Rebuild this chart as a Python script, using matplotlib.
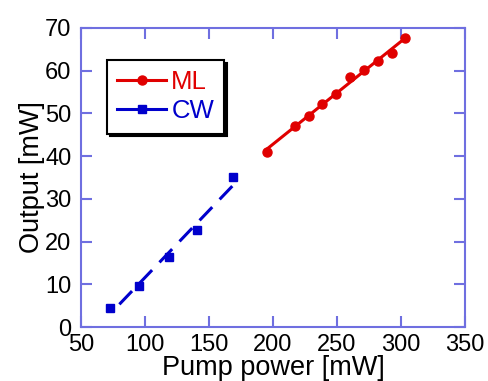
import matplotlib
matplotlib.use("Agg")
import matplotlib.pyplot as plt
import numpy as np

# Mode-locked output vs pump power
ml_pump = [195, 217, 228, 238.5, 249, 260, 271, 282, 293, 303.5]
ml_out = [41.0, 47.1, 49.3, 52.1, 54.5, 58.5, 60.2, 62.3, 64.2, 67.6]

# CW output vs pump power
cw_pump = [73, 95, 119, 141, 169]
cw_out = [4.4, 9.7, 16.5, 22.7, 35.0]

red = "#e00000"
blue = "#0000cc"
frame = "#6f6fe0"

plt.rcParams["font.family"] = ["Liberation Sans", "DejaVu Sans"]

fig = plt.figure(figsize=(4.89, 3.81), dpi=100)
ax = fig.add_axes([0.1656, 0.1417, 0.785, 0.785])

# linear fits drawn over the measured points
p_ml = np.polyfit(ml_pump, ml_out, 1)
xf_ml = np.array([ml_pump[0], ml_pump[-1]])
ax.plot(xf_ml, np.polyval(p_ml, xf_ml), color=red, lw=2.2)
ax.plot(ml_pump, ml_out, "o", color=red, ms=6.5)

p_cw = np.polyfit(cw_pump, cw_out, 1)
xf_cw = np.array([80, cw_pump[-1]])
ax.plot(xf_cw, np.polyval(p_cw, xf_cw), color=blue, lw=2.2, ls=(0, (6, 3.5)))
ax.plot(cw_pump, cw_out, "s", color=blue, ms=6.3)

# legend proxies
h_ml, = ax.plot([], [], "-o", color=red, lw=2.2, ms=6.5, label="ML")
h_cw, = ax.plot([], [], "-s", color=blue, lw=2.2, ms=6.3, label="CW")
leg = ax.legend(handles=[h_ml, h_cw], loc="upper left", bbox_to_anchor=(0.068, 0.893),
                borderaxespad=0, fancybox=False, shadow={"color": "black", "alpha": 1},
                edgecolor="black", fontsize=18.5, handlelength=1.9, handletextpad=0.2,
                labelspacing=0.2, borderpad=0.4, framealpha=1)
leg.get_frame().set_linewidth(1.5)
for txt, c in zip(leg.get_texts(), [red, blue]):
    txt.set_color(c)

ax.set_xlim(50, 350)
ax.set_ylim(0, 70)
ax.set_xticks(np.arange(50, 351, 50))
ax.set_yticks(np.arange(0, 71, 10))
ax.tick_params(direction="in", top=True, right=True, length=8, width=1.5,
               color=frame, labelsize=17)
ax.tick_params(axis="x", pad=5)
ax.tick_params(axis="y", pad=7)
for s in ax.spines.values():
    s.set_color(frame)
    s.set_linewidth(1.5)

ax.set_xlabel("Pump power [mW]", fontsize=19.5, labelpad=-1)
ax.set_ylabel("Output [mW]", fontsize=19.5, labelpad=0)

fig.savefig("out.png", dpi=100)
